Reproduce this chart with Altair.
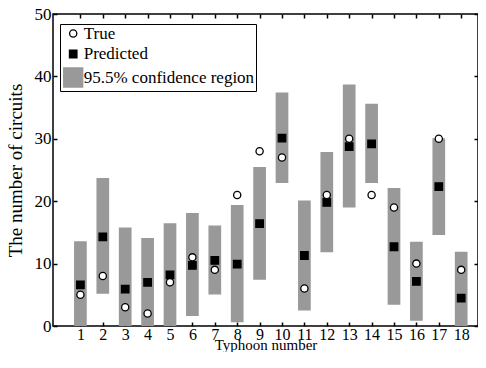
import altair as alt
import pandas as pd

typhoon = list(range(1, 19))
true_vals = [5, 8, 3, 2, 7, 11, 9, 21, 28, 27, 6, 21, 30, 21, 19, 10, 30, 9]
pred_vals = [6.6, 14.3, 5.9, 7.0, 8.2, 9.7, 10.5, 9.9, 16.4, 30.1, 11.3, 19.8,
             28.75, 29.2, 12.7, 7.15, 22.35, 4.45]
ci_low = [0, 5.15, 0, 0, 0, 1.6, 5.05, 0.6, 7.4, 22.9, 2.5, 11.8, 19.0, 22.9,
          3.4, 0.85, 14.6, 0]
ci_high = [13.6, 23.7, 15.8, 14.1, 16.45, 18.1, 16.1, 19.4, 25.5, 37.4, 20.1,
           27.9, 38.7, 35.6, 22.1, 13.5, 30.1, 11.9]

series_names = ["True", "Predicted", "95.5% confidence region"]
y_ticks = [0, 10, 20, 30, 40, 50]

bars_df = pd.DataFrame({"typhoon": typhoon, "low": ci_low, "high": ci_high})
points_df = pd.DataFrame({
    "typhoon": typhoon + typhoon,
    "value": pred_vals + true_vals,
    "series": ["Predicted"] * 18 + ["True"] * 18,
})

FONT = "Liberation Serif"
GRAY = "#999999"

x_scale = alt.Scale(domain=[0, 18.527], nice=False, zero=False)
y_scale = alt.Scale(domain=[0, 50], nice=False)

bars = alt.Chart(bars_df).mark_bar(size=12.7, color=GRAY).encode(
    x=alt.X("typhoon:Q", scale=x_scale,
            axis=alt.Axis(orient="bottom", values=typhoon, title="Typhoon number",
                          offset=-4, tickSize=4, labelPadding=0, labelFontSize=16,
                          titleBaseline="alphabetic", titleY=27,
                          titleFontSize=15, titleColor="#000000")),
    y=alt.Y("low:Q", scale=y_scale,
            axis=alt.Axis(orient="left", values=y_ticks, title="The number of circuits",
                          offset=-4, tickSize=4, labelPadding=2, titlePadding=9,
                          titleFontSize=19, titleColor="#000000")),
    y2="high:Q",
)

leg = alt.Legend(title=None)

points = alt.Chart(points_df).mark_point(opacity=1, strokeWidth=1.3).encode(
    x=alt.X("typhoon:Q", scale=x_scale,
            axis=alt.Axis(orient="top", values=typhoon, title=None, labels=False,
                          offset=-4, tickSize=4)),
    y=alt.Y("value:Q", scale=y_scale,
            axis=alt.Axis(orient="right", values=y_ticks, title=None, labels=False,
                          offset=-4, tickSize=4)),
    fill=alt.Fill("series:N", scale=alt.Scale(domain=series_names, range=["white", "black", GRAY]), legend=leg),
    stroke=alt.Stroke("series:N", scale=alt.Scale(domain=series_names, range=["black", "black", GRAY]), legend=leg),
    shape=alt.Shape("series:N", scale=alt.Scale(domain=series_names, range=["circle", "square", "square"]), legend=leg),
    size=alt.Size("series:N", scale=alt.Scale(type="ordinal", domain=series_names, range=[52, 56, 361]), legend=leg),
)

chart = alt.layer(bars, points).resolve_axis(
    x="independent", y="independent"
).properties(
    width=425, height=312,
    autosize=alt.AutoSizeParams(type="none"),
    padding={"left": 45, "top": 6, "right": 0, "bottom": 26},
).configure_view(
    stroke="black", strokeWidth=1.5
).configure_axis(
    grid=False, domain=False,
    labelFont=FONT, labelFontSize=17, labelColor="black",
    titleFont=FONT, titleColor="black", titleFontWeight="normal",
    tickColor="black", tickWidth=1.5,
).configure_legend(
    orient="none", legendX=7, legendY=10,
    strokeColor="black", fillColor="white", padding=1, symbolOffset=1.7,
    labelFont=FONT, labelFontSize=17, labelColor="black", labelOffset=0,
    labelLimit=400,
    rowPadding=2.5, symbolFillColor="white", symbolStrokeWidth=1.3,
    cornerRadius=0,
)

chart.save("out.html", embed_options={"renderer": "svg", "actions": False})
